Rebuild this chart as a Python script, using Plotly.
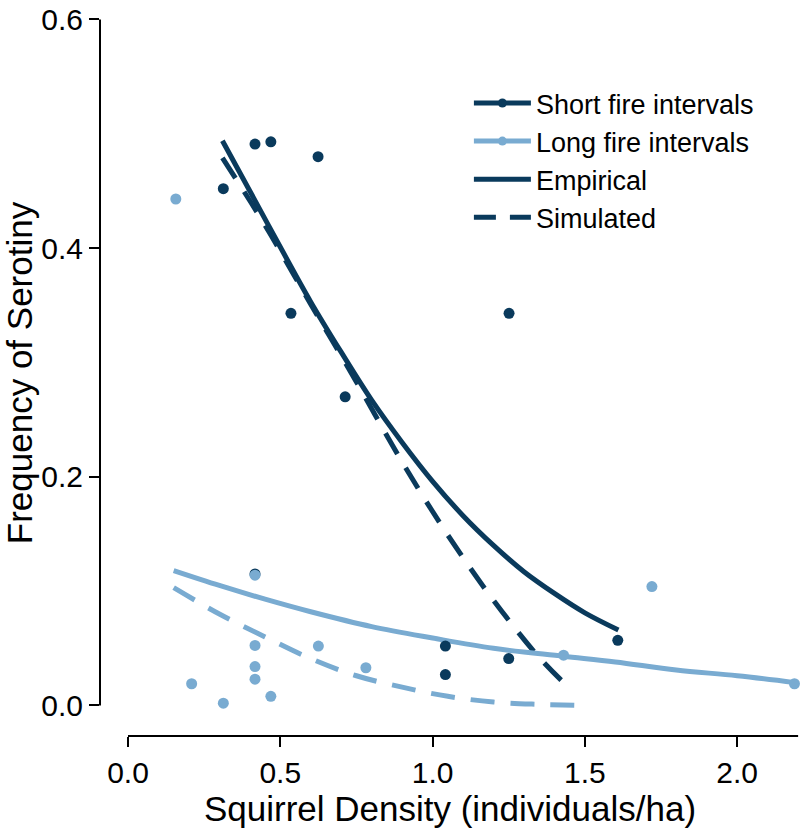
import plotly.graph_objects as go

# ---- data ----
short_x = [0.313, 0.417, 0.469, 0.624, 0.535, 0.713, 1.251, 0.417, 1.042, 1.042, 1.250, 1.608]
short_y = [0.452, 0.491, 0.493, 0.480, 0.343, 0.270, 0.343, 0.115, 0.052, 0.027, 0.041, 0.057]

long_x = [0.157, 0.209, 0.313, 0.417, 0.417, 0.417, 0.417, 0.469, 0.625, 0.781, 1.430, 1.720, 2.188]
long_y = [0.443, 0.019, 0.002, 0.114, 0.0525, 0.034, 0.023, 0.008, 0.052, 0.033, 0.044, 0.104, 0.019]

emp_short_x = [0.31, 0.4, 0.5, 0.6, 0.7, 0.8, 0.9, 1.0, 1.1, 1.2, 1.3, 1.4, 1.5, 1.61]
emp_short_y = [0.494, 0.450, 0.401, 0.353, 0.309, 0.267, 0.230, 0.196, 0.166, 0.140, 0.117, 0.098, 0.081, 0.066]

sim_short_x = [0.31, 0.45, 0.6, 0.75, 0.9, 1.05, 1.2, 1.35, 1.45]
sim_short_y = [0.479, 0.420, 0.351, 0.283, 0.213, 0.149, 0.092, 0.042, 0.015]

emp_long_x = [0.15, 0.3, 0.45, 0.6, 0.8, 1.0, 1.2, 1.43, 1.6, 1.8, 2.0, 2.19]
emp_long_y = [0.118, 0.105, 0.093, 0.082, 0.069, 0.059, 0.050, 0.043, 0.038, 0.031, 0.026, 0.020]

sim_long_x = [0.15, 0.3, 0.45, 0.6, 0.75, 0.9, 1.05, 1.2, 1.35, 1.5]
sim_long_y = [0.103, 0.080, 0.060, 0.041, 0.026, 0.016, 0.008, 0.003, 0.001, 0.0]

x_tickvals = [0.0, 0.5, 1.0, 1.5, 2.0]
x_ticktext = ["0.0", "0.5", "1.0", "1.5", "2.0"]
y_tickvals = [0.0, 0.2, 0.4, 0.6]
y_ticktext = ["0.0", "0.2", "0.4", "0.6"]

DARK = "#0a3a5c"
LIGHT = "#79abd1"
FONT = "Liberation Sans, Arial, Helvetica, sans-serif"

fig = go.Figure()

# fitted curves
fig.add_trace(go.Scatter(x=emp_short_x, y=emp_short_y, mode="lines", line=dict(color=DARK, width=5, shape="spline"),
                         showlegend=False, hoverinfo="skip"))
fig.add_trace(go.Scatter(x=sim_short_x, y=sim_short_y, mode="lines", line=dict(color=DARK, width=5, shape="spline", dash="24px,16px"),
                         showlegend=False, hoverinfo="skip"))
fig.add_trace(go.Scatter(x=emp_long_x, y=emp_long_y, mode="lines", line=dict(color=LIGHT, width=5, shape="spline"),
                         showlegend=False, hoverinfo="skip"))
fig.add_trace(go.Scatter(x=sim_long_x, y=sim_long_y, mode="lines", line=dict(color=LIGHT, width=5, shape="spline", dash="24px,16px"),
                         showlegend=False, hoverinfo="skip"))

# observed points
fig.add_trace(go.Scatter(x=short_x, y=short_y, mode="markers", marker=dict(color=DARK, size=11),
                         showlegend=False, cliponaxis=False))
fig.add_trace(go.Scatter(x=long_x, y=long_y, mode="markers", marker=dict(color=LIGHT, size=11),
                         showlegend=False, cliponaxis=False))

# legend entries
fig.add_trace(go.Scatter(x=[None], y=[None], mode="lines+markers", name="Short fire intervals",
                         line=dict(color=DARK, width=5), marker=dict(color=DARK, size=9)))
fig.add_trace(go.Scatter(x=[None], y=[None], mode="lines+markers", name="Long fire intervals",
                         line=dict(color=LIGHT, width=5), marker=dict(color=LIGHT, size=9)))
fig.add_trace(go.Scatter(x=[None], y=[None], mode="lines", name="Empirical",
                         line=dict(color=DARK, width=5)))
fig.add_trace(go.Scatter(x=[None], y=[None], mode="lines", name="Simulated",
                         line=dict(color=DARK, width=5, dash="22px,14px")))

# offset axis lines (R style)
fig.add_shape(type="line", xref="x", yref="paper", x0=x_tickvals[0], x1=2.2, y0=0, y1=0,
              line=dict(color="black", width=2))
fig.add_shape(type="line", xref="paper", yref="y", x0=0, x1=0, y0=y_tickvals[0], y1=y_tickvals[-1],
              line=dict(color="black", width=2))

fig.update_layout(
    width=808, height=839,
    margin=dict(l=100, r=8, t=10, b=103),
    paper_bgcolor="white", plot_bgcolor="white",
    font=dict(family=FONT, color="black"),
    showlegend=True,
    legend=dict(x=0.527, y=0.905, xanchor="left", yanchor="top", font=dict(size=27, family=FONT),
                itemwidth=57, bgcolor="rgba(0,0,0,0)", tracegroupgap=0),
    xaxis=dict(range=[-0.0919, 2.2062], showgrid=False, zeroline=False, showline=False, automargin=False,
               ticks="outside", ticklen=10, tickwidth=2, tickcolor="black",
               tickvals=x_tickvals, ticktext=x_ticktext, tickfont=dict(size=30),
               title=dict(text="Squirrel Density (individuals/ha)", font=dict(size=35), standoff=8)),
    yaxis=dict(range=[-0.0267, 0.6083], showgrid=False, zeroline=False, showline=False, automargin=False,
               ticks="outside", ticklen=10, tickwidth=2, tickcolor="black",
               tickvals=y_tickvals, ticktext=y_ticktext, tickfont=dict(size=30),
               title=dict(text="Frequency of Serotiny", font=dict(size=35), standoff=6)),
)

fig.write_html("out.html", config={"displayModeBar": False})

# remove the browser's default page margin so the figure sits at the window origin
with open("out.html", "r", encoding="utf-8") as f:
    html = f.read()
html = html.replace("<head>", "<head><style>html,body{margin:0;padding:0;overflow:hidden;}</style>", 1)
with open("out.html", "w", encoding="utf-8") as f:
    f.write(html)
